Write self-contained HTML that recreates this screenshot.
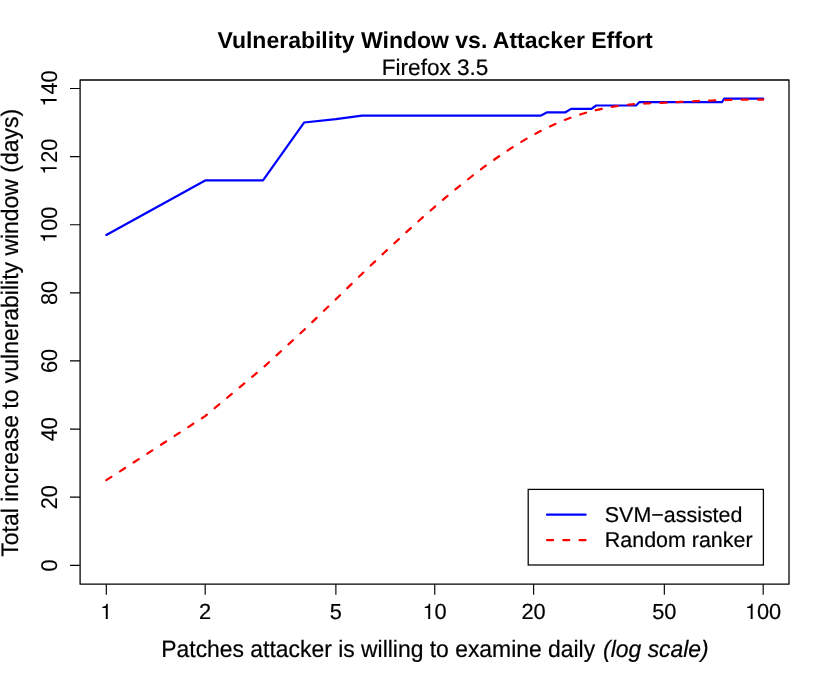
<!DOCTYPE html>
<html><head><meta charset="utf-8"><title>Vulnerability Window vs. Attacker Effort</title>
<style>html,body{margin:0;padding:0;background:#fff;}body{width:830px;height:684px;overflow:hidden;}svg{display:block;will-change:transform;}text{font-family:"Liberation Sans",sans-serif;fill:#000;text-rendering:geometricPrecision;}</style></head><body>
<svg width="830" height="684" viewBox="0 0 830 684">
<rect x="0" y="0" width="830" height="684" fill="#fff"/>
<text transform="translate(435,47.5) scale(1,1.0)" text-anchor="middle" font-size="23.0" font-weight="bold">Vulnerability Window vs. Attacker Effort</text>
<text transform="translate(435.05,75.4) scale(1,1.0)" stroke="#000" stroke-width="0.2" text-anchor="middle" font-size="22.55">Firefox 3.5</text>
<polyline points="106.30,234.92 205.17,180.42 263.01,180.42 304.05,122.52 335.88,119.11 361.88,115.71 383.87,115.71 402.92,115.71 419.72,115.71 434.75,115.71 448.35,115.71 460.76,115.71 472.17,115.71 482.75,115.71 492.59,115.71 501.79,115.71 510.44,115.71 518.59,115.71 526.31,115.71 533.62,115.71 540.58,115.71 547.22,112.30 553.56,112.30 559.63,112.30 565.45,112.30 571.05,108.90 576.43,108.90 581.62,108.90 586.62,108.90 591.46,108.90 596.14,105.49 600.67,105.49 605.06,105.49 609.31,105.49 613.45,105.49 617.47,105.49 621.38,105.49 625.18,105.49 628.89,105.49 632.50,105.49 636.02,105.49 639.46,102.08 642.81,102.08 646.09,102.08 649.30,102.08 652.43,102.08 655.50,102.08 658.50,102.08 661.44,102.08 664.33,102.08 667.15,102.08 669.92,102.08 672.64,102.08 675.30,102.08 677.92,102.08 680.49,102.08 683.02,102.08 685.50,102.08 687.94,102.08 690.33,102.08 692.69,102.08 695.01,102.08 697.29,102.08 699.54,102.08 701.75,102.08 703.93,102.08 706.07,102.08 708.19,102.08 710.27,102.08 712.32,102.08 714.35,102.08 716.34,102.08 718.31,102.08 720.25,102.08 722.16,102.08 724.05,98.68 725.92,98.68 727.76,98.68 729.58,98.68 731.37,98.68 733.14,98.68 734.89,98.68 736.62,98.68 738.33,98.68 740.02,98.68 741.69,98.68 743.34,98.68 744.97,98.68 746.58,98.68 748.17,98.68 749.75,98.68 751.31,98.68 752.85,98.68 754.37,98.68 755.88,98.68 757.38,98.68 758.86,98.68 760.32,98.68 761.77,98.68 763.20,98.68" fill="none" stroke="#0000ff" stroke-width="2.2" stroke-linecap="round" stroke-linejoin="round"/>
<polyline points="106.30,480.15 205.17,416.12 263.01,367.75 304.05,329.95 335.88,299.29 361.88,273.95 383.87,253.03 402.92,235.28 419.72,220.03 434.75,206.80 448.35,195.22 460.76,185.02 472.17,175.99 482.75,167.95 492.59,160.79 501.79,154.38 510.44,148.65 518.59,143.51 526.31,138.90 533.62,134.76 540.58,131.04 547.22,127.71 553.56,124.73 559.63,122.06 565.45,119.69 571.05,117.57 576.43,115.70 581.62,114.04 586.62,112.57 591.46,111.26 596.14,110.10 600.67,109.07 605.06,108.16 609.31,107.36 613.45,106.64 617.47,106.02 621.38,105.48 625.18,105.02 628.89,104.63 632.50,104.31 636.02,104.04 639.46,103.81 642.81,103.62 646.09,103.46 649.30,103.30 652.43,103.13 655.50,103.07 658.50,102.99 661.44,102.89 664.33,102.76 667.15,102.63 669.92,102.48 672.64,102.33 675.30,102.18 677.92,102.04 680.49,101.89 683.02,101.76 685.50,101.62 687.94,101.49 690.33,101.37 692.69,101.25 695.01,101.14 697.29,101.04 699.54,100.95 701.75,100.87 703.93,100.78 706.07,100.70 708.19,100.63 710.27,100.56 712.32,100.48 714.35,100.42 716.34,100.35 718.31,100.29 720.25,100.23 722.16,100.17 724.05,100.11 725.92,100.05 727.76,99.99 729.58,99.94 731.37,99.88 733.14,99.85 734.89,99.81 736.62,99.78 738.33,99.75 740.02,99.72 741.69,99.69 743.34,99.67 744.97,99.65 746.58,99.64 748.17,99.62 749.75,99.61 751.31,99.60 752.85,99.59 754.37,99.58 755.88,99.57 757.38,99.57 758.86,99.56 760.32,99.56 761.77,99.56 763.20,99.56" fill="none" stroke="#ff0000" stroke-width="2.2" stroke-linecap="round" stroke-linejoin="round" stroke-dasharray="6.1 10.17"/>
<g fill="none" stroke="#000" stroke-width="1.28" stroke-linecap="butt" stroke-linejoin="round"><rect x="80.1" y="80.0" width="708.9" height="504.20000000000005"/></g>
<g fill="none" stroke="#000" stroke-width="1.15" stroke-linecap="butt"><path d="M106.30,584.2 v10.5 M205.17,584.2 v10.5 M335.88,584.2 v10.5 M434.75,584.2 v10.5 M533.62,584.2 v10.5 M664.33,584.2 v10.5 M763.20,584.2 v10.5"/><path d="M80.1,565.30 h-10.1 M80.1,497.18 h-10.1 M80.1,429.06 h-10.1 M80.1,360.94 h-10.1 M80.1,292.82 h-10.1 M80.1,224.70 h-10.1 M80.1,156.58 h-10.1 M80.1,88.46 h-10.1"/></g>
<g transform="translate(106.30,619.1) scale(1,1.0)"><path d="M.259 0V.505H.102V.568C.21 .572 .275 .61 .292 .709H.35V0Z" transform="translate(-6.16,0) scale(21.8,-21.8)" fill="#000"/></g>
<g transform="translate(205.17,619.1) scale(1,1.0)"><text x="-6.16" y="0" font-size="21.8" stroke="#000" stroke-width="0.2">2</text></g>
<g transform="translate(335.88,619.1) scale(1,1.0)"><text x="-6.16" y="0" font-size="21.8" stroke="#000" stroke-width="0.2">5</text></g>
<g transform="translate(434.75,619.1) scale(1,1.0)"><path d="M.259 0V.505H.102V.568C.21 .572 .275 .61 .292 .709H.35V0Z" transform="translate(-12.18,0) scale(21.8,-21.8)" fill="#000"/><text x="-0.15" y="0" font-size="21.8" stroke="#000" stroke-width="0.2">0</text></g>
<g transform="translate(533.62,619.1) scale(1,1.0)"><text x="-12.18" y="0" font-size="21.8" stroke="#000" stroke-width="0.2">2</text><text x="-0.15" y="0" font-size="21.8" stroke="#000" stroke-width="0.2">0</text></g>
<g transform="translate(664.33,619.1) scale(1,1.0)"><text x="-12.18" y="0" font-size="21.8" stroke="#000" stroke-width="0.2">5</text><text x="-0.15" y="0" font-size="21.8" stroke="#000" stroke-width="0.2">0</text></g>
<g transform="translate(763.20,619.1) scale(1,1.0)"><path d="M.259 0V.505H.102V.568C.21 .572 .275 .61 .292 .709H.35V0Z" transform="translate(-18.19,0) scale(21.8,-21.8)" fill="#000"/><text x="-6.16" y="0" font-size="21.8" stroke="#000" stroke-width="0.2">0</text><text x="5.86" y="0" font-size="21.8" stroke="#000" stroke-width="0.2">0</text></g>
<g transform="translate(56.6,565.30) rotate(-90) scale(1,1.045)"><text x="-6.16" y="0" font-size="21.8" stroke="#000" stroke-width="0.08">0</text></g>
<g transform="translate(56.6,497.18) rotate(-90) scale(1,1.045)"><text x="-12.18" y="0" font-size="21.8" stroke="#000" stroke-width="0.08">2</text><text x="-0.15" y="0" font-size="21.8" stroke="#000" stroke-width="0.08">0</text></g>
<g transform="translate(56.6,429.06) rotate(-90) scale(1,1.045)"><text x="-12.18" y="0" font-size="21.8" stroke="#000" stroke-width="0.08">4</text><text x="-0.15" y="0" font-size="21.8" stroke="#000" stroke-width="0.08">0</text></g>
<g transform="translate(56.6,360.94) rotate(-90) scale(1,1.045)"><text x="-12.18" y="0" font-size="21.8" stroke="#000" stroke-width="0.08">6</text><text x="-0.15" y="0" font-size="21.8" stroke="#000" stroke-width="0.08">0</text></g>
<g transform="translate(56.6,292.82) rotate(-90) scale(1,1.045)"><text x="-12.18" y="0" font-size="21.8" stroke="#000" stroke-width="0.08">8</text><text x="-0.15" y="0" font-size="21.8" stroke="#000" stroke-width="0.08">0</text></g>
<g transform="translate(56.6,224.70) rotate(-90) scale(1,1.045)"><path d="M.259 0V.505H.102V.568C.21 .572 .275 .61 .292 .709H.35V0Z" transform="translate(-18.19,0) scale(21.8,-21.8)" fill="#000"/><text x="-6.16" y="0" font-size="21.8" stroke="#000" stroke-width="0.08">0</text><text x="5.86" y="0" font-size="21.8" stroke="#000" stroke-width="0.08">0</text></g>
<g transform="translate(56.6,156.58) rotate(-90) scale(1,1.045)"><path d="M.259 0V.505H.102V.568C.21 .572 .275 .61 .292 .709H.35V0Z" transform="translate(-18.19,0) scale(21.8,-21.8)" fill="#000"/><text x="-6.16" y="0" font-size="21.8" stroke="#000" stroke-width="0.08">2</text><text x="5.86" y="0" font-size="21.8" stroke="#000" stroke-width="0.08">0</text></g>
<g transform="translate(56.6,88.46) rotate(-90) scale(1,1.045)"><path d="M.259 0V.505H.102V.568C.21 .572 .275 .61 .292 .709H.35V0Z" transform="translate(-18.19,0) scale(21.8,-21.8)" fill="#000"/><text x="-6.16" y="0" font-size="21.8" stroke="#000" stroke-width="0.08">4</text><text x="5.86" y="0" font-size="21.8" stroke="#000" stroke-width="0.08">0</text></g>
<text transform="translate(435,657.2) scale(1,1.04)" stroke="#000" stroke-width="0.2" text-anchor="middle" font-size="22.9" xml:space="preserve">Patches attacker is willing to examine daily <tspan font-style="italic" dx="1.6">(log scale)</tspan></text>
<text transform="translate(18.1,332.8) rotate(-90) scale(1,1.04)" stroke="#000" stroke-width="0.2" text-anchor="middle" font-size="22.96">Total increase to vulnerability window (days)</text>
<rect x="528.2" y="489.4" width="235.2" height="75.6" fill="#fff" stroke="#000" stroke-width="1.25"/>
<line x1="547" y1="514.7" x2="585.6" y2="514.7" stroke="#0000ff" stroke-width="2.2" stroke-linecap="round"/>
<line x1="547" y1="540.1" x2="585.6" y2="540.1" stroke="#ff0000" stroke-width="2.2" stroke-linecap="round" stroke-dasharray="6.1 10.17"/>
<text transform="translate(604.8,521.7) scale(1,1.0)" stroke="#000" stroke-width="0.2" font-size="21.45">SVM−assisted</text>
<text transform="translate(604.8,547.0) scale(1,1.0)" stroke="#000" stroke-width="0.2" font-size="21.45">Random ranker</text>
</svg></body></html>
